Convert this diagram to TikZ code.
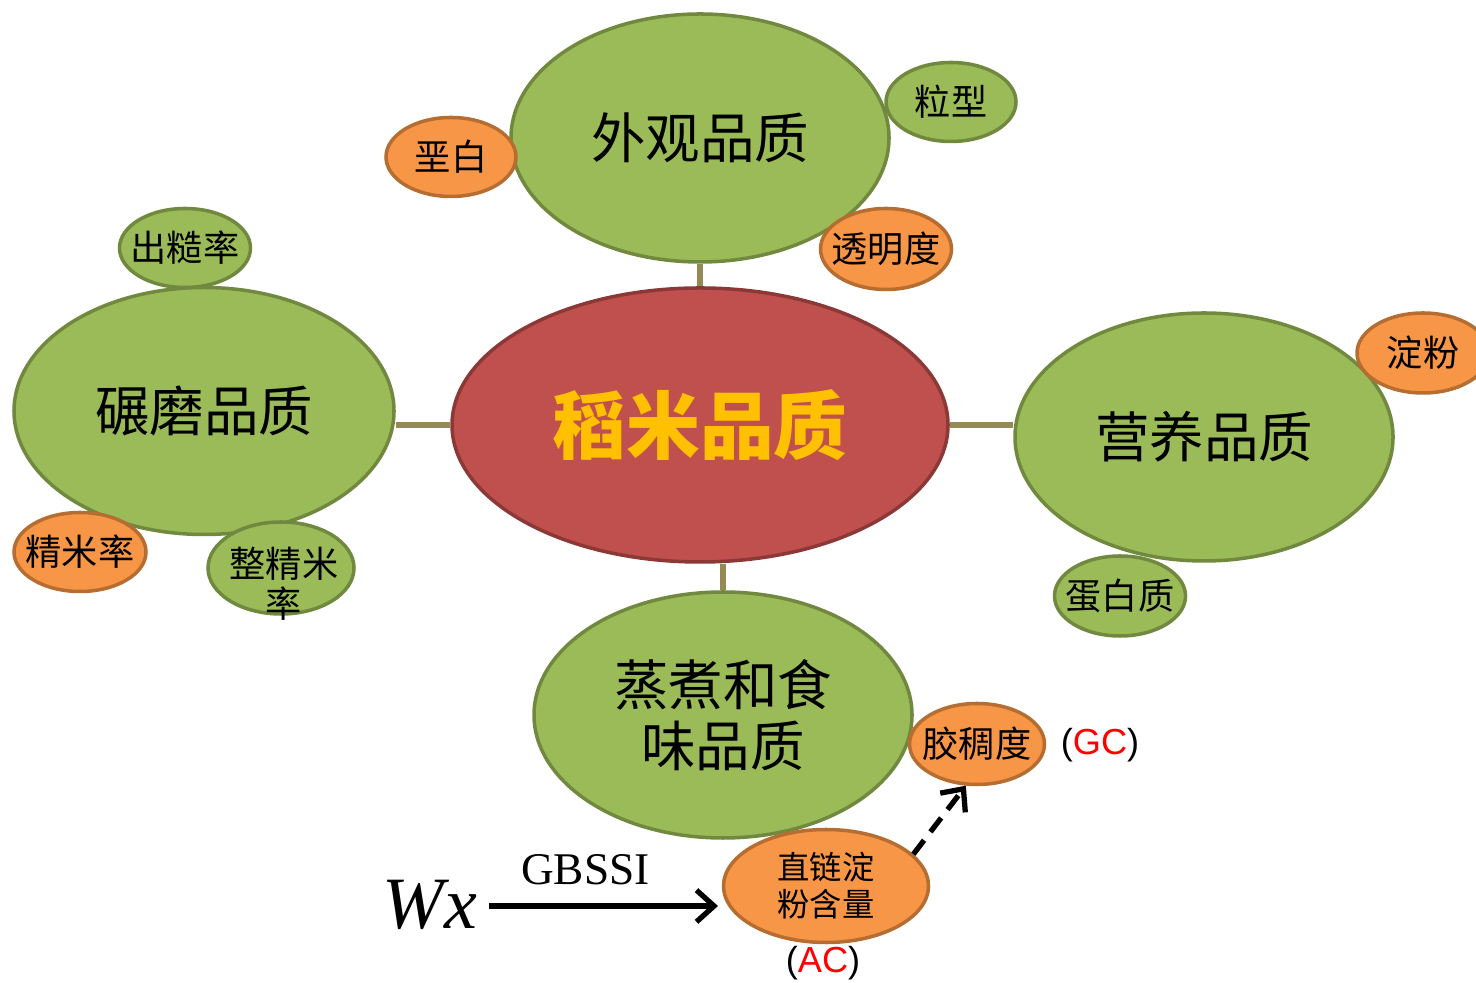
\documentclass[tikz,border=0pt]{standalone}
\usepackage{fontspec}
\setmainfont{Liberation Serif}
\newfontfamily\cjk{Noto Sans CJK SC}
\newfontfamily\arial{Liberation Sans}
\usetikzlibrary{arrows.meta,shapes.geometric,backgrounds}
\definecolor{leaf}{HTML}{9BBB59}
\definecolor{leafline}{HTML}{71893F}
\definecolor{peach}{HTML}{F79646}
\definecolor{peachline}{HTML}{B66D31}
\definecolor{brick}{HTML}{C0504D}
\definecolor{brickline}{HTML}{8C3836}
\definecolor{gold}{HTML}{FFC000}
\definecolor{olive}{HTML}{948A54}
\begin{document}
\begin{tikzpicture}

    \tikzset{
      blob/.style={ellipse, line width=1pt, inner sep=0pt, align=center},
      core/.style={blob, draw=brickline, fill=brick, text=gold,
        font=\cjk\bfseries\fontsize{21}{24}\selectfont},
      bigleaf/.style={blob, draw=leafline, fill=leaf,
        minimum width=3.78cm, minimum height=2.48cm,
        font=\cjk\fontsize{15.5}{17.4}\selectfont},
      smallleaf/.style={blob, draw=leafline, fill=leaf, inner xsep=-0.12cm,
        minimum width=1.30cm, minimum height=0.79cm,
        font=\cjk\fontsize{10.3}{11.4}\selectfont},
      smallpeach/.style={smallleaf, draw=peachline, fill=peach},
      link/.style={olive, line width=1.6pt},
      push/.style={line width=1.5pt, -{Straight Barb[length=5pt,width=9pt,line width=1.5pt]}},
    }
    \useasboundingbox (0,0) rectangle (14.76,9.82);

    \node[core, minimum width=4.96cm, minimum height=2.74cm] (rice) at (7.00,5.57) {稻米品质};
    \node[bigleaf] (look) at (7.00,8.44) {外观品质};
    \node[bigleaf] (nutri) at (12.04,5.45) {营养品质};
    \node[bigleaf, minimum width=3.80cm, minimum height=2.47cm] (mill) at (2.04,5.71) {碾磨品质};
    \node[bigleaf, minimum height=2.46cm] (cook) at (7.23,2.67) {蒸煮和食\\味品质};

    \node[smallpeach] (chalk) at (4.51,8.25) {垩白};
    \node[smallleaf] (shape) at (9.51,8.80) {粒型};
    \node[smallpeach, minimum width=1.31cm, minimum height=0.81cm] (clear) at (8.86,7.33) {透明度};
    \node[smallleaf, minimum width=1.31cm] (brown) at (1.85,7.34) {出糙率};
    \node[smallpeach, minimum width=1.32cm] (milled) at (0.80,4.30) {精米率};
    \node[smallleaf, minimum width=1.46cm, minimum height=0.92cm] (head) at (2.81,4.14) {};
    \node[font=\cjk\fontsize{10.3}{11.4}\selectfont, align=center, inner sep=0pt] (headtxt) at (2.84,3.98) {整精米\\率};
    \node[smallpeach, minimum width=1.32cm, minimum height=0.80cm] (starch) at (14.23,6.29) {淀粉};
    \node[smallleaf, minimum width=1.31cm, minimum height=0.80cm] (protein) at (11.20,3.86) {蛋白质};
    \node[smallpeach, minimum width=1.35cm, minimum height=0.81cm] (gel) at (9.77,2.38) {胶稠度};
    \node[smallpeach, minimum width=2.05cm, minimum height=1.13cm,
      font=\cjk\fontsize{9.2}{10.5}\selectfont] (amyl) at (8.26,0.96) {直链淀\\粉含量};

    \node[font=\arial\fontsize{10.3}{12}\selectfont, inner sep=0pt] (gctag) at (11.00,2.37) {(\textcolor{red}{GC})};
    \node[font=\arial\fontsize{10.3}{12}\selectfont, inner sep=0pt] (actag) at (8.23,0.19) {(\textcolor{red}{AC})};
    \node[font=\itshape\fontsize{21}{24}\selectfont, inner sep=1pt] (wx) at (4.30,0.77) {Wx};
    \coordinate (wxend) at (7.18,0.76);

    \begin{scope}[on background layer]
    \draw[link] (look.south) -- (rice.north);
    \draw[link] (rice.west) -- (rice.west -| mill.east);
    \draw[link] (rice.east) -- (rice.east -| nutri.west);
    \draw[link] (cook.north) -- (cook.north |- rice.south);
    \end{scope}

    \draw[push] (wx.east |- wxend) ++(0.08,0) -- (wxend)
      node[pos=0.42, above=2pt, font=\fontsize{12.9}{14}\selectfont] (gbssi) {GBSSI};
    \draw[push, dashed, dash pattern=on 5pt off 3pt] (amyl.20) -- (gel.255);

\end{tikzpicture}
\end{document}
